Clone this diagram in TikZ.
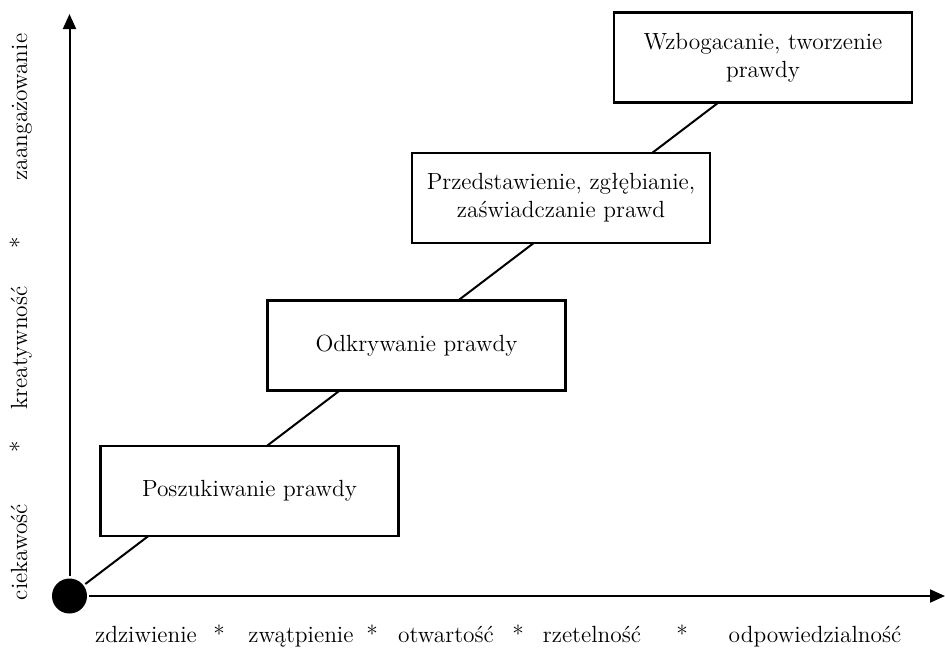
\documentclass[tikz,border=0pt]{standalone}
\usetikzlibrary{arrows.meta}
\begin{document}
\begin{tikzpicture}[x=0.5pt,y=-0.5pt]
\tikzset{stage/.style={draw,fill=white,line width=1.2pt,align=center,minimum width=149pt,minimum height=45pt,inner sep=0pt},
  lbl/.style={inner sep=0pt,anchor=base},
  axis/.style={line width=1pt,-{Triangle[length=7.5pt,width=6.5pt]}}}
\fontsize{11.7}{14}\selectfont
\useasboundingbox(0,0)rectangle(945,650);

\node[circle,fill=black,minimum size=17.5pt,inner sep=0pt,outer sep=1.2pt](O)at(69.5,596){};
\coordinate(ytip)at(69.5,14);
\coordinate(xtip)at(945,596);
\coordinate(top)at(777,58);
\draw[axis](O)--(ytip);
\draw[axis](O)--(xtip);
\draw[line width=1pt](O)--(top);

\node[stage](b1)at(249.5,491){Poszukiwanie prawdy};
\node[stage](b2)at(416.5,345.5){Odkrywanie prawdy};
\node[stage](b3)at(561,198){Przedstawienie, zgłębianie,\\zaświadczanie prawd};
\node[stage](b4)at(763,57.5){Wzbogacanie, tworzenie\\prawdy};

% horizontal axis
\foreach \w/\x [count=\i] in {zdziwienie/146,*/219,zwątpienie/301,*/372,otwartość/446,*/518,rzetelność/592,*/682,odpowiedzialność/815}
\node[lbl](h\i)at(\x,642){\w};
% vertical axis
\foreach \w/\y [count=\i] in {ciekawość/552,*/447,kreatywność/348,*/243,zaangażowanie/107}
\node[lbl,rotate=90](v\i)at(27,\y){\w};
\end{tikzpicture}
\end{document}
